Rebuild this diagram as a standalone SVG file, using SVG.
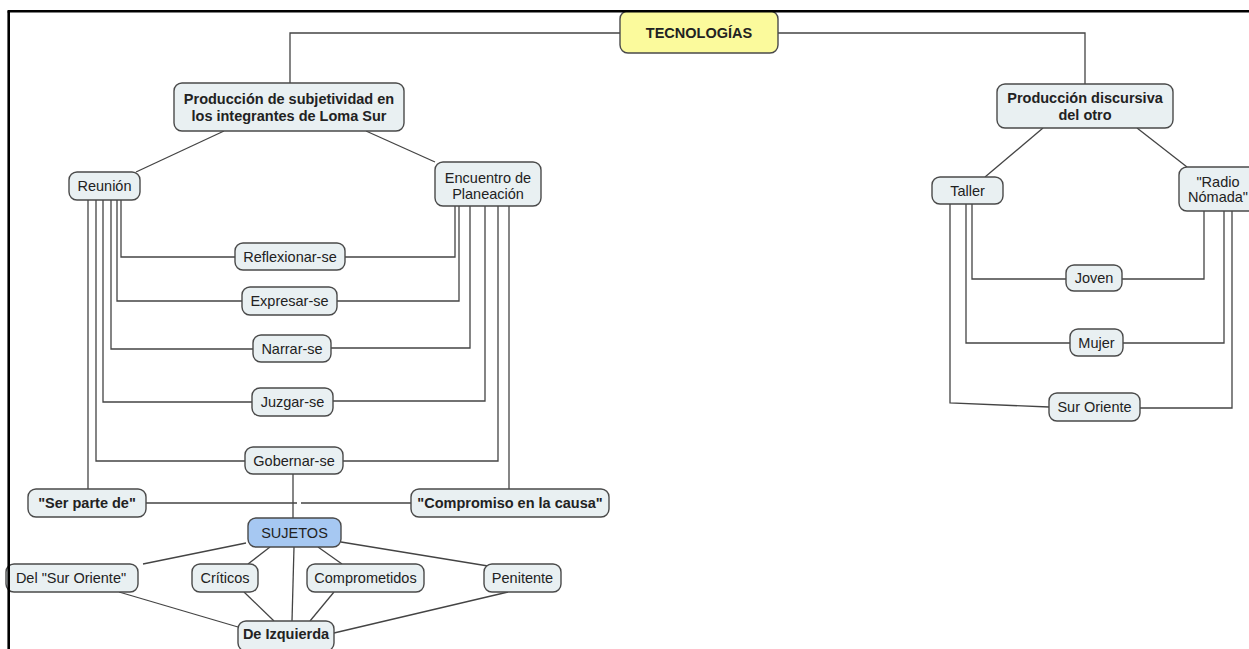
<svg xmlns="http://www.w3.org/2000/svg" width="1249" height="649" viewBox="0 0 1249 649">
<style>
.n{fill:#e9f0f2;stroke:#4a4a4a;stroke-width:1.4}
.t{font-family:"Liberation Sans",Arial,sans-serif;font-size:14.5px;fill:#222;text-anchor:middle}
.b{font-weight:bold}
.c{fill:none;stroke:#444;stroke-width:1.3}
</style>
<rect width="1249" height="649" fill="#fff"/>
<g id="connectors" class="c">
<path d="M620,33 H290 V83"/>
<path d="M778,33 H1085 V84"/>
<path d="M224,131 L136,172"/>
<path d="M366,131 L435,162"/>
<path d="M1043,128 L985,177"/>
<path d="M1137,128 L1187,167"/>
<path d="M121,200 V257 H235"/>
<path d="M117,200 V301 H242"/>
<path d="M111,200 V349 H253"/>
<path d="M103,200 V402 H252"/>
<path d="M96,200 V461 H245"/>
<path d="M88,200 V489"/>
<path d="M455,206 V257 H345"/>
<path d="M459,206 V301 H337"/>
<path d="M470,206 V348 H331"/>
<path d="M485,206 V401 H333"/>
<path d="M498,206 V461 H343"/>
<path d="M509,206 V489"/>
<path d="M293,474 V518"/>
<path d="M146,503 H297 M301,503 H411"/>
<path d="M246,543 L143,564"/>
<path d="M270,547 L248,564"/>
<path d="M294,547 L292,621"/>
<path d="M318,547 L342,564"/>
<path d="M341,542 L488,566"/>
<path d="M119,592 L238,627"/>
<path d="M244,592 L274,621"/>
<path d="M334,592 L310,621"/>
<path d="M508,592 L334,633"/>
<path d="M972,204 V279 H1066"/>
<path d="M966,204 V343 H1070"/>
<path d="M950,204 V403 L1049,407"/>
<path d="M1204,211 V279 H1122"/>
<path d="M1224,211 V343 H1123"/>
<path d="M1232,211 V408 H1140"/>
</g>
<g id="tecnologias"><rect x="620" y="11" width="158" height="42" rx="8" fill="#fbfa9c" stroke="#4a4a4a" stroke-width="1.4"/><text class="t b" x="699" y="38">TECNOLOGÍAS</text></g>
<g id="prod-subj"><rect class="n" x="174" y="83" width="230" height="48" rx="8"/><text class="t b" x="289" y="104">Producción de subjetividad en</text><text class="t b" x="289" y="121">los integrantes de Loma Sur</text></g>
<g id="prod-disc"><rect class="n" x="997" y="84" width="176" height="44" rx="8"/><text class="t b" x="1085" y="103">Producción discursiva</text><text class="t b" x="1085" y="120">del otro</text></g>
<g id="reunion"><rect class="n" x="69" y="172" width="71" height="28" rx="8"/><text class="t" x="104.5" y="191">Reunión</text></g>
<g id="encuentro"><rect class="n" x="435" y="162" width="106" height="44" rx="8"/><text class="t" x="488" y="183">Encuentro de</text><text class="t" x="488" y="199">Planeación</text></g>
<g id="taller"><rect class="n" x="932" y="177" width="71" height="27" rx="8"/><text class="t" x="967.5" y="196">Taller</text></g>
<g id="radio"><rect class="n" x="1179" y="167" width="78" height="44" rx="8"/><text class="t" x="1218" y="187">"Radio</text><text class="t" x="1218" y="202">Nómada"</text></g>
<g id="reflexionar"><rect class="n" x="235" y="243" width="110" height="27" rx="8"/><text class="t" x="290" y="262">Reflexionar-se</text></g>
<g id="expresar"><rect class="n" x="242" y="287" width="95" height="28" rx="8"/><text class="t" x="289.5" y="306">Expresar-se</text></g>
<g id="narrar"><rect class="n" x="253" y="335" width="78" height="27" rx="8"/><text class="t" x="292" y="354">Narrar-se</text></g>
<g id="juzgar"><rect class="n" x="252" y="388" width="81" height="28" rx="8"/><text class="t" x="292.5" y="407">Juzgar-se</text></g>
<g id="gobernar"><rect class="n" x="245" y="447" width="98" height="27" rx="8"/><text class="t" x="294" y="466">Gobernar-se</text></g>
<g id="ser-parte"><rect class="n" x="28" y="489" width="118" height="28" rx="8"/><text class="t b" x="87" y="508">"Ser parte de"</text></g>
<g id="compromiso"><rect class="n" x="411" y="489" width="198" height="28" rx="8"/><text class="t b" x="510" y="508">"Compromiso en la causa"</text></g>
<g id="sujetos"><rect x="248" y="518" width="93" height="29" rx="8" fill="#a6c8f2" stroke="#4a4a4a" stroke-width="1.4"/><text class="t" x="294.5" y="537.5" fill="#1c2a44">SUJETOS</text></g>
<g id="del-sur"><rect class="n" x="6" y="564" width="132" height="28" rx="8"/><text class="t" x="71" y="583">Del "Sur Oriente"</text></g>
<g id="criticos"><rect class="n" x="192" y="564" width="66" height="28" rx="8"/><text class="t" x="225" y="583">Críticos</text></g>
<g id="comprometidos"><rect class="n" x="307" y="564" width="117" height="28" rx="8"/><text class="t" x="365.5" y="583">Comprometidos</text></g>
<g id="penitente"><rect class="n" x="484" y="564" width="77" height="28" rx="8"/><text class="t" x="522.5" y="583">Penitente</text></g>
<g id="izquierda"><rect class="n" x="238" y="621" width="96" height="30" rx="8"/><text class="t b" x="286" y="639">De Izquierda</text></g>
<g id="joven"><rect class="n" x="1066" y="265" width="56" height="26" rx="8"/><text class="t" x="1094" y="283">Joven</text></g>
<g id="mujer"><rect class="n" x="1070" y="329" width="53" height="27" rx="8"/><text class="t" x="1096.5" y="347.5">Mujer</text></g>
<g id="sur-oriente"><rect class="n" x="1049" y="393" width="91" height="28" rx="8"/><text class="t" x="1094.5" y="412">Sur Oriente</text></g>
<g id="frame" fill="none" stroke="#000" stroke-width="2.6"><path d="M7.5,11.3 H1249"/><path d="M8.7,11.3 V649"/></g>
</svg>
